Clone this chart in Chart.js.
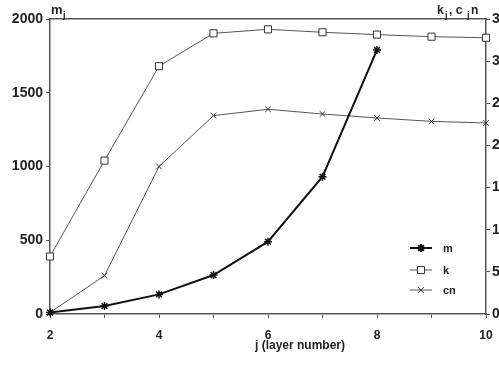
<!DOCTYPE html>
<html>
<head>
<meta charset="utf-8">
<script src="https://cdn.jsdelivr.net/npm/chart.js@4"></script>
<style>
  html, body { margin: 0; padding: 0; background: #fff; }
  #wrap { width: 499px; height: 365px; }
</style>
</head>
<body>
<div id="wrap"><canvas id="layerChart" width="499" height="365"></canvas></div>
<script>
// layer number j
const layers = [2, 3, 4, 5, 6, 7, 8, 9, 10];
// series (left axis units)
const mValues = [10, 54, 133, 264, 490, 931, 1790, null, null];
const kValues = [390, 1040, 1680, 1903, 1930, 1910, 1894, 1880, 1873];
const cnValues = [10, 260, 1000, 1345, 1388, 1356, 1329, 1306, 1295];
const leftTicks = [0, 500, 1000, 1500, 2000];
const rightTicks = [0, 5, 10, 15, 20, 25, 30, 35];
const legendNames = ['m', 'k', 'cn'];

const ink = '#222';
const fontFam = '"Liberation Sans", Arial, sans-serif';

function pts(vals) {
  return layers.map((x, i) => ({ x: x, y: vals[i] }));
}

// extra texts: axis heads, x title, legend
const extras = {
  id: 'extras',
  afterDraw(chart) {
    const c = chart.ctx;
    const a = chart.chartArea;
    c.save();
    c.fillStyle = ink;
    c.textBaseline = 'alphabetic';
    // m_j
    c.font = 'bold 13px ' + fontFam;
    c.textAlign = 'left';
    c.fillText('m', a.left + 1, 14);
    c.font = 'bold 9px ' + fontFam;
    c.fillText('j', a.left + 13, 18);
    // k_j, c_j n
    c.font = 'bold 12px ' + fontFam;
    c.fillText('k', 437, 14);
    c.font = 'bold 9px ' + fontFam;
    c.fillText('j', 445, 18);
    c.font = 'bold 12px ' + fontFam;
    c.fillText(', c', 449, 14);
    c.font = 'bold 9px ' + fontFam;
    c.fillText('j', 467, 18);
    c.font = 'bold 12px ' + fontFam;
    c.fillText('n', 471, 14);
    // x title
    c.font = 'bold 12px ' + fontFam;
    c.textAlign = 'center';
    c.fillText('j (layer number)', 300, 349);

    // legend
    const rows = [248, 270, 290];
    chart.data.datasets.forEach((ds, i) => {
      const y = rows[i];
      c.strokeStyle = ds.borderColor;
      c.lineWidth = ds.borderWidth;
      c.beginPath();
      c.moveTo(410, y);
      c.lineTo(432, y);
      c.stroke();
      c.strokeStyle = ds.pointBorderColor;
      c.fillStyle = ds.pointBackgroundColor || '#333';
      Chart.helpers.drawPoint(c, {
        pointStyle: ds.pointStyle,
        radius: ds.pointRadius,
        borderWidth: 1
      }, 421, y);
      c.fillStyle = ink;
      c.font = 'bold 11px ' + fontFam;
      c.textAlign = 'left';
      c.textBaseline = 'middle';
      c.fillText(legendNames[i], 443, y + 1);
    });
    c.restore();
  }
};

new Chart(document.getElementById('layerChart'), {
  type: 'line',
  data: {
    datasets: [{
      label: legendNames[0],
      data: pts(mValues),
      borderColor: '#111',
      borderWidth: 2,
      pointStyle: 'star',
      pointRadius: 4,
      pointBorderColor: '#111',
      pointBackgroundColor: '#111',
      pointBorderWidth: 1.5,
      clip: false
    }, {
      label: legendNames[1],
      data: pts(kValues),
      borderColor: '#555',
      borderWidth: 1,
      pointStyle: 'rect',
      pointRadius: 5,
      pointBorderColor: '#333',
      pointBackgroundColor: '#fff',
      pointBorderWidth: 1,
      clip: false
    }, {
      label: legendNames[2],
      data: pts(cnValues),
      borderColor: '#555',
      borderWidth: 1,
      pointStyle: 'crossRot',
      pointRadius: 4,
      pointBorderColor: '#333',
      pointBorderWidth: 1,
      clip: false
    }]
  },
  options: {
    responsive: false,
    animation: false,
    layout: { padding: { top: 19, left: 0, right: 0, bottom: 0 } },
    plugins: { legend: { display: false }, tooltip: { enabled: false } },
    scales: {
      x: {
        type: 'linear',
        min: 2,
        max: 10,
        afterFit: s => { s.height = 51; s.paddingLeft = 0; s.paddingRight = 0; },
        afterBuildTicks: s => { s.ticks = layers.map(v => ({ value: v })); },
        ticks: {
          color: ink,
          font: { family: fontFam, size: 12, weight: 'bold' },
          padding: 10,
          maxRotation: 0,
          autoSkip: false,
          callback: v => (v % 2 === 0 ? String(v) : '')
        },
        grid: { drawOnChartArea: false, tickLength: 4, color: '#555' },
        border: { color: '#555', width: 1.5 }
      },
      y: {
        position: 'left',
        min: 0,
        max: 2000,
        afterFit: s => { s.width = 50; s.paddingTop = 0; s.paddingBottom = 0; },
        afterBuildTicks: s => { s.ticks = leftTicks.map(v => ({ value: v })); },
        ticks: {
          color: ink,
          font: { family: fontFam, size: 14, weight: 'bold' },
          padding: 3,
          callback: v => String(v)
        },
        grid: { drawOnChartArea: false, tickLength: 4, color: '#555' },
        border: { color: '#555', width: 1.5 }
      },
      y2: {
        position: 'right',
        min: 0,
        max: 35,
        afterFit: s => { s.width = 13; s.paddingTop = 0; s.paddingBottom = 0; },
        afterBuildTicks: s => { s.ticks = rightTicks.map(v => ({ value: v })); },
        ticks: {
          color: ink,
          font: { family: fontFam, size: 14, weight: 'bold' },
          padding: 2,
          callback: v => String(v)
        },
        grid: { drawOnChartArea: false, tickLength: 4, color: '#555' },
        border: { color: '#555', width: 1.5 }
      },
      top: {
        position: 'top',
        type: 'linear',
        min: 2,
        max: 10,
        afterFit: s => { s.height = 0; s.paddingLeft = 0; s.paddingRight = 0; },
        ticks: { display: false },
        grid: { display: false },
        border: { color: '#555', width: 1.5 }
      }
    }
  },
  plugins: [extras]
});
</script>
</body>
</html>
